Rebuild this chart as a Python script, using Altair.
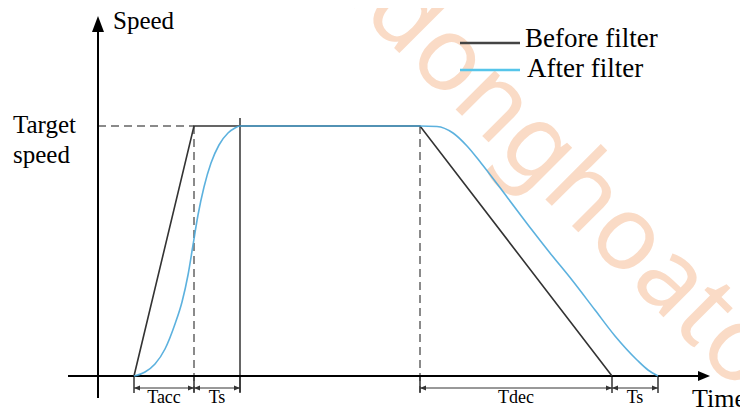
import altair as alt
import pandas as pd

# ---------------- data ----------------
# time axis in arbitrary units (0 = speed axis), speed normalised (1 = target speed)
before_time = [3.6, 9.6, 32.2, 51.4]
before_speed = [0.0, 1.0, 1.0, 0.0]

after_time = [3.6, 4.7, 5.7, 6.7, 7.7, 8.4, 9.0, 9.5, 10.0, 10.6, 11.3, 12.1, 13.0, 13.7, 14.2,
              32.2, 33.9, 35.5, 36.9, 38.3, 40.9, 43.4, 45.2, 47.4, 49.7,
              51.7, 53.9, 55.0, 56.0]
after_speed = [0.0, 0.016, 0.048, 0.108, 0.208, 0.296, 0.404, 0.524, 0.644, 0.756, 0.852,
               0.924, 0.972, 0.992, 1.0,
               1.0, 0.998, 0.972, 0.92, 0.852, 0.716, 0.584, 0.492, 0.384, 0.264,
               0.16, 0.064, 0.024, 0.0]

key_time = [3.6, 9.6, 14.2, 32.2, 51.4, 56.0]
dashed_time = [9.6, 32.2]
solid_time = [14.2]
interval_label = ["Tacc", "Ts", "Tdec", "Ts"]
interval_start = [3.6, 9.6, 32.2, 51.4]
interval_end = [9.6, 14.2, 51.4, 56.0]
target_speed = 1.0
legend_label = ["Before filter", "After filter"]
watermark = ["udonghoatos"]

# ---------------- chart ----------------
W, H = 732, 404
xs = alt.Scale(domain=[-9.0, 64.2], nice=False, zero=False)
ys = alt.Scale(domain=[-0.144, 1.472], nice=False, zero=False)
SERIF = "Liberation Serif"
BLACK = "#333333"
BLUE = "#4aa8da"

before_df = pd.DataFrame({"t": before_time, "s": before_speed})
after_df = pd.DataFrame({"t": after_time, "s": after_speed})
key_df = pd.DataFrame({"t": key_time})
dash_df = pd.DataFrame({"t": dashed_time})
solid_df = pd.DataFrame({"t": solid_time})
int_df = pd.DataFrame({"label": interval_label, "t0": interval_start, "t1": interval_end})
one = pd.DataFrame({"a": [0]})

wm = alt.Chart(pd.DataFrame({"w": watermark})).mark_text(
    angle=45, fontSize=103, font="Noto Sans", color="#fadbc6",
    align="center", baseline="middle"
).encode(x=alt.value(559), y=alt.value(169), text="w:N")

y_axis = alt.Chart(one).mark_rule(color="black", strokeWidth=2).encode(
    x=alt.XDatum(0, scale=xs, axis=None), y=alt.value(16), y2=alt.value(390))
y_arrow = alt.Chart(one).mark_point(
    shape="M0,-1L0.75,1L-0.75,1Z", size=256, filled=True, color="black", opacity=1
).encode(x=alt.XDatum(0, scale=xs, axis=None), y=alt.value(16))

x_axis = alt.Chart(one).mark_rule(color="black", strokeWidth=2).encode(
    x=alt.value(60), x2=alt.value(694), y=alt.YDatum(0, scale=ys, axis=None))
x_arrow = alt.Chart(one).mark_point(
    shape="M1,0L-1,0.85L-1,-0.85Z", size=144, filled=True, color="black", opacity=1
).encode(x=alt.value(696), y=alt.YDatum(0, scale=ys, axis=None))

target_dash = alt.Chart(one).mark_rule(color="#8a8a8a", strokeWidth=2, strokeDash=[8, 5]).encode(
    x=alt.XDatum(0, scale=xs, axis=None), x2=alt.X2Datum(dashed_time[0]),
    y=alt.YDatum(target_speed, scale=ys, axis=None))

v_dash = alt.Chart(dash_df).mark_rule(color="#8a8a8a", strokeWidth=2, strokeDash=[8, 5]).encode(
    x=alt.X("t:Q", scale=xs, axis=None),
    y=alt.YDatum(target_speed, scale=ys, axis=None), y2=alt.value(384))

v_solid = alt.Chart(solid_df).mark_rule(color=BLACK, strokeWidth=1.5).encode(
    x=alt.X("t:Q", scale=xs, axis=None), y=alt.value(110), y2=alt.value(384))

ticks = alt.Chart(key_df).mark_rule(color=BLACK, strokeWidth=1.5).encode(
    x=alt.X("t:Q", scale=xs, axis=None),
    y=alt.YDatum(0, scale=ys, axis=None), y2=alt.value(385))

dim_line = alt.Chart(int_df).mark_rule(color=BLACK, strokeWidth=1).encode(
    x=alt.X("t0:Q", scale=xs, axis=None), x2="t1:Q", y=alt.value(380))
dim_left = alt.Chart(int_df).mark_point(
    shape="M0,0L2,-0.8L2,0.8Z", size=36, filled=True, color=BLACK, opacity=1
).encode(x=alt.X("t0:Q", scale=xs, axis=None), y=alt.value(380))
dim_right = alt.Chart(int_df).mark_point(
    shape="M0,0L-2,-0.8L-2,0.8Z", size=36, filled=True, color=BLACK, opacity=1
).encode(x=alt.X("t1:Q", scale=xs, axis=None), y=alt.value(380))
dim_text = alt.Chart(int_df).transform_calculate(mid="(datum.t0 + datum.t1) / 2").mark_text(
    font=SERIF, fontSize=18, color="black", baseline="alphabetic", align="center"
).encode(x=alt.X("mid:Q", scale=xs, axis=None), y=alt.value(395), text="label:N")

before_line = alt.Chart(before_df).mark_line(color=BLACK, strokeWidth=1.6).encode(
    x=alt.X("t:Q", scale=xs, axis=None), y=alt.Y("s:Q", scale=ys, axis=None))
after_line = alt.Chart(after_df).mark_line(
    color=BLUE, strokeWidth=1.6, interpolate="monotone", opacity=0.9
).encode(x=alt.X("t:Q", scale=xs, axis=None), y=alt.Y("s:Q", scale=ys, axis=None))

leg1 = alt.Chart(one).mark_rule(color="#444444", strokeWidth=2.5).encode(
    x=alt.value(452), x2=alt.value(512), y=alt.value(35))
leg2 = alt.Chart(one).mark_rule(color="#56c5ea", strokeWidth=2.5).encode(
    x=alt.value(452), x2=alt.value(512), y=alt.value(62))
leg1t = alt.Chart(one).mark_text(font=SERIF, fontSize=27, align="left", baseline="alphabetic",
                                 color="black", text=legend_label[0]).encode(
    x=alt.value(517), y=alt.value(39))
leg2t = alt.Chart(one).mark_text(font=SERIF, fontSize=27, align="left", baseline="alphabetic",
                                 color="black", text=legend_label[1]).encode(
    x=alt.value(519), y=alt.value(69))

speed_t = alt.Chart(one).mark_text(font=SERIF, fontSize=25, align="left", baseline="alphabetic",
                                   color="black", text="Speed").encode(
    x=alt.value(105), y=alt.value(21))
target_t = alt.Chart(one).mark_text(font=SERIF, fontSize=25, align="left", baseline="alphabetic",
                                    color="black", text=["Target", "speed"], lineHeight=30).encode(
    x=alt.value(5), y=alt.value(125))
time_t = alt.Chart(one).mark_text(font=SERIF, fontSize=26, align="left", baseline="alphabetic",
                                  color="black", text="Time").encode(
    x=alt.value(684), y=alt.value(399))

chart = alt.layer(
    wm, target_dash, v_dash, v_solid, ticks, dim_line, dim_left, dim_right, dim_text,
    y_axis, y_arrow, x_axis, x_arrow, before_line, after_line,
    leg1, leg2, leg1t, leg2t, speed_t, target_t, time_t
).properties(
    width=W, height=H, autosize=alt.AutoSizeParams(type="none"), padding=0
).configure_view(stroke=None)

chart.save("out.html", embed_options={"renderer": "svg", "actions": False})
